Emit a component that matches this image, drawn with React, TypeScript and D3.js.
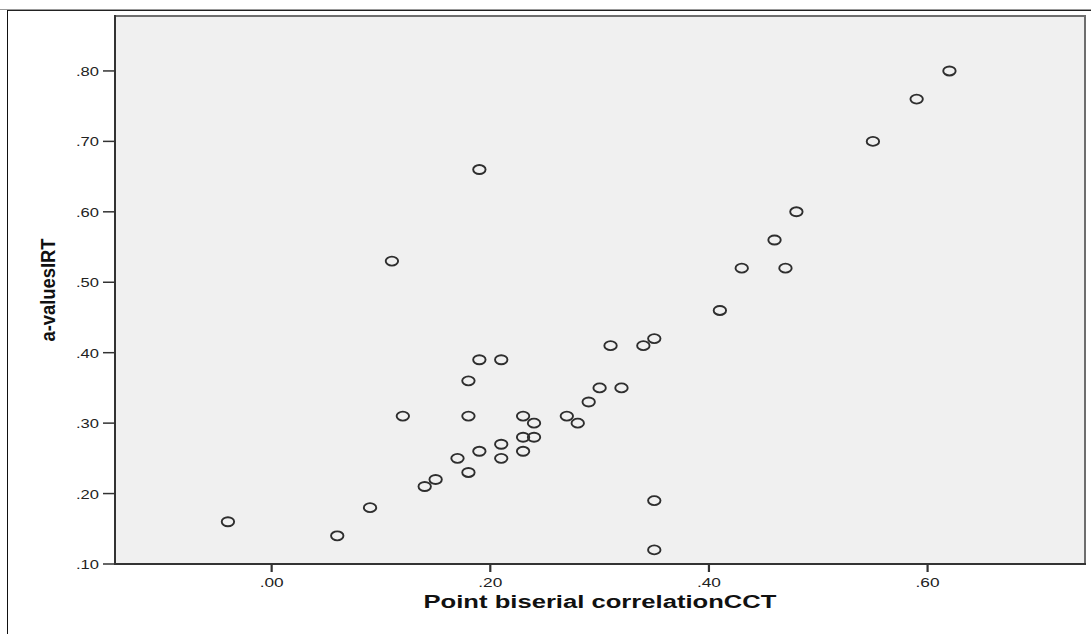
import React from "react";
import * as d3 from "d3";

const xValues: number[] = [
  -0.04, 0.06, 0.09, 0.11, 0.12, 0.14, 0.15, 0.17, 0.18, 0.18, 0.18, 0.19, 0.19, 0.19,
  0.21, 0.21, 0.21, 0.23, 0.23, 0.23, 0.24, 0.24, 0.27, 0.28, 0.29, 0.30, 0.31, 0.32,
  0.34, 0.35, 0.35, 0.35, 0.41, 0.43, 0.46, 0.47, 0.48, 0.55, 0.59, 0.62,
];
const yValues: number[] = [
  0.16, 0.14, 0.18, 0.53, 0.31, 0.21, 0.22, 0.25, 0.36, 0.31, 0.23, 0.66, 0.39, 0.26,
  0.39, 0.27, 0.25, 0.31, 0.28, 0.26, 0.30, 0.28, 0.31, 0.30, 0.33, 0.35, 0.41, 0.35,
  0.41, 0.42, 0.19, 0.12, 0.46, 0.52, 0.56, 0.52, 0.60, 0.70, 0.76, 0.80,
];
const xTicks: number[] = [0.0, 0.2, 0.4, 0.6];
const yTicks: number[] = [0.1, 0.2, 0.3, 0.4, 0.5, 0.6, 0.7, 0.8];
const xTitle = "Point biserial correlationCCT";
const yTitle = "a-valuesIRT";

const W = 1091;
const H = 634;
const plot = { left: 115, right: 1085, top: 16, bottom: 564 };

const fmt = (v: number) => {
  const s = Math.abs(v).toFixed(2).replace(/^0/, "");
  return (v < 0 ? "-" : "") + s;
};

export default function App() {
  const x = d3.scaleLinear().domain([-0.1433, 0.744]).range([plot.left, plot.right]);
  const y = d3.scaleLinear().domain([0.1, 0.878]).range([plot.bottom, plot.top]);
  const font = "'Liberation Sans', Arial, sans-serif";
  return (
    <div style={{ position: "absolute", left: 0, top: 0 }}>
      <svg width={W} height={H} style={{ display: "block", background: "#fff" }}>
        {/* outer frame */}
        <line x1={0} x2={W} y1={9.5} y2={9.5} stroke="#999" strokeWidth={1} />
        <line x1={7} x2={W} y1={10.5} y2={10.5} stroke="#222" strokeWidth={1} />
        <line x1={7.5} x2={7.5} y1={10} y2={H} stroke="#111" strokeWidth={1} />
        {/* plot background */}
        <rect
          x={plot.left}
          y={plot.top}
          width={plot.right - plot.left}
          height={plot.bottom - plot.top}
          fill="#f0f0f0"
          stroke="#6e6e6e"
          strokeWidth={2}
        />
        {/* axis lines */}
        <line x1={plot.left} x2={plot.left} y1={plot.top - 1} y2={plot.bottom + 1} stroke="#333" strokeWidth={2} />
        <line x1={plot.left - 1} x2={plot.right + 1} y1={plot.bottom} y2={plot.bottom} stroke="#333" strokeWidth={2} />
        {/* y ticks */}
        {yTicks.map((t) => (
          <g key={"y" + t}>
            <line x1={plot.left - 12} x2={plot.left} y1={y(t)} y2={y(t)} stroke="#333" strokeWidth={1.5} />
            <text
              x={99}
              y={y(t) + 5}
              textAnchor="end"
              fontFamily={font}
              fontSize={13}
              fill="#222"
              textLength={23}
              lengthAdjust="spacingAndGlyphs"
            >
              {fmt(t)}
            </text>
          </g>
        ))}
        {/* x ticks */}
        {xTicks.map((t) => (
          <g key={"x" + t}>
            <line x1={x(t)} x2={x(t)} y1={plot.bottom} y2={plot.bottom + 8} stroke="#333" strokeWidth={2.2} />
            <text
              x={x(t)}
              y={587}
              textAnchor="middle"
              fontFamily={font}
              fontSize={13}
              fill="#222"
              textLength={24}
              lengthAdjust="spacingAndGlyphs"
            >
              {fmt(t)}
            </text>
          </g>
        ))}
        {/* titles */}
        <text
          x={(plot.left + plot.right) / 2}
          y={608}
          textAnchor="middle"
          fontFamily={font}
          fontWeight="bold"
          fontSize={18}
          fill="#111"
          textLength={353}
          lengthAdjust="spacingAndGlyphs"
        >
          {xTitle}
        </text>
        <text
          transform={`translate(55, ${(plot.top + plot.bottom) / 2}) rotate(-90)`}
          textAnchor="middle"
          fontFamily={font}
          fontWeight="bold"
          fontSize={21}
          fill="#111"
          textLength={103}
          lengthAdjust="spacingAndGlyphs"
        >
          {yTitle}
        </text>
        {/* points */}
        {xValues.map((xv, i) => (
          <ellipse
            key={i}
            cx={x(xv)}
            cy={y(yValues[i])}
            rx={6.2}
            ry={4.5}
            fill="none"
            stroke="#2e2e2e"
            strokeWidth={1.9}
          />
        ))}
      </svg>
    </div>
  );
}
